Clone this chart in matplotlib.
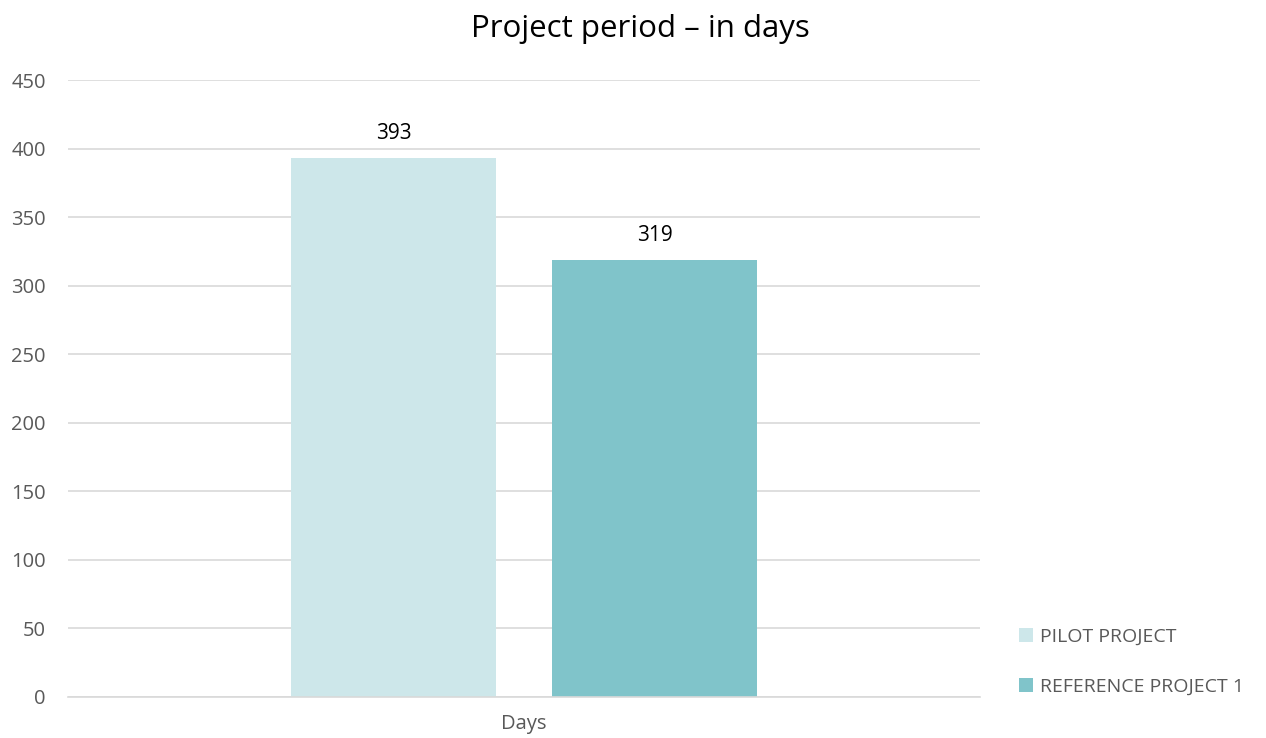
import matplotlib.pyplot as plt
from matplotlib.patches import Patch

plt.rcParams['font.family'] = ['Open Sans', 'DejaVu Sans']

category = ['Days']
series = ['PILOT PROJECT', 'REFERENCE PROJECT 1']
values = [393, 319]
colors = ['#CDE7EA', '#80C4CA']

fig = plt.figure(figsize=(12.66, 7.38), dpi=100)
ax = fig.add_axes([68 / 1266, 1 - 697 / 738, 912 / 1266, 617 / 738])

offsets = [-0.1431, 0.1431]
width = 0.2248
for off, v, c in zip(offsets, values, colors):
    ax.bar(off, v, width=width, color=c, zorder=2)
    ax.text(off, v + 10, str(v), ha='center', va='bottom', fontsize=15, color='#000000')

ax.set_xlim(-0.5, 0.5)
ax.set_ylim(0, 450)
ax.set_yticks(range(0, 451, 50))
ax.set_xticks([0])
ax.set_xticklabels(category)
ax.tick_params(axis='both', length=0, labelsize=14.5, colors='#595959')
ax.tick_params(axis='y', pad=16)
ax.tick_params(axis='x', pad=12)
ax.grid(axis='y', color='#D9D9D9', linewidth=1.2, zorder=0)
for s in ['top', 'right', 'left']:
    ax.spines[s].set_visible(False)
ax.spines['bottom'].set_color('#D9D9D9')
ax.spines['bottom'].set_linewidth(1.2)

fig.text(640 / 1266, 1 - 29 / 738, 'Project period – in days', ha='center', va='center',
         fontsize=22.5, color='#000000')

handles = [Patch(facecolor=c, label=s) for s, c in zip(series, colors)]
fig.legend(handles=handles, loc='center left', bbox_to_anchor=(1001 / 1266, 1 - 662 / 738),
           frameon=False, fontsize=14, labelcolor='#595959', handlelength=0.75,
           handleheight=0.75, handletextpad=0.35, labelspacing=1.65)

fig.savefig('out.png', dpi=100)
